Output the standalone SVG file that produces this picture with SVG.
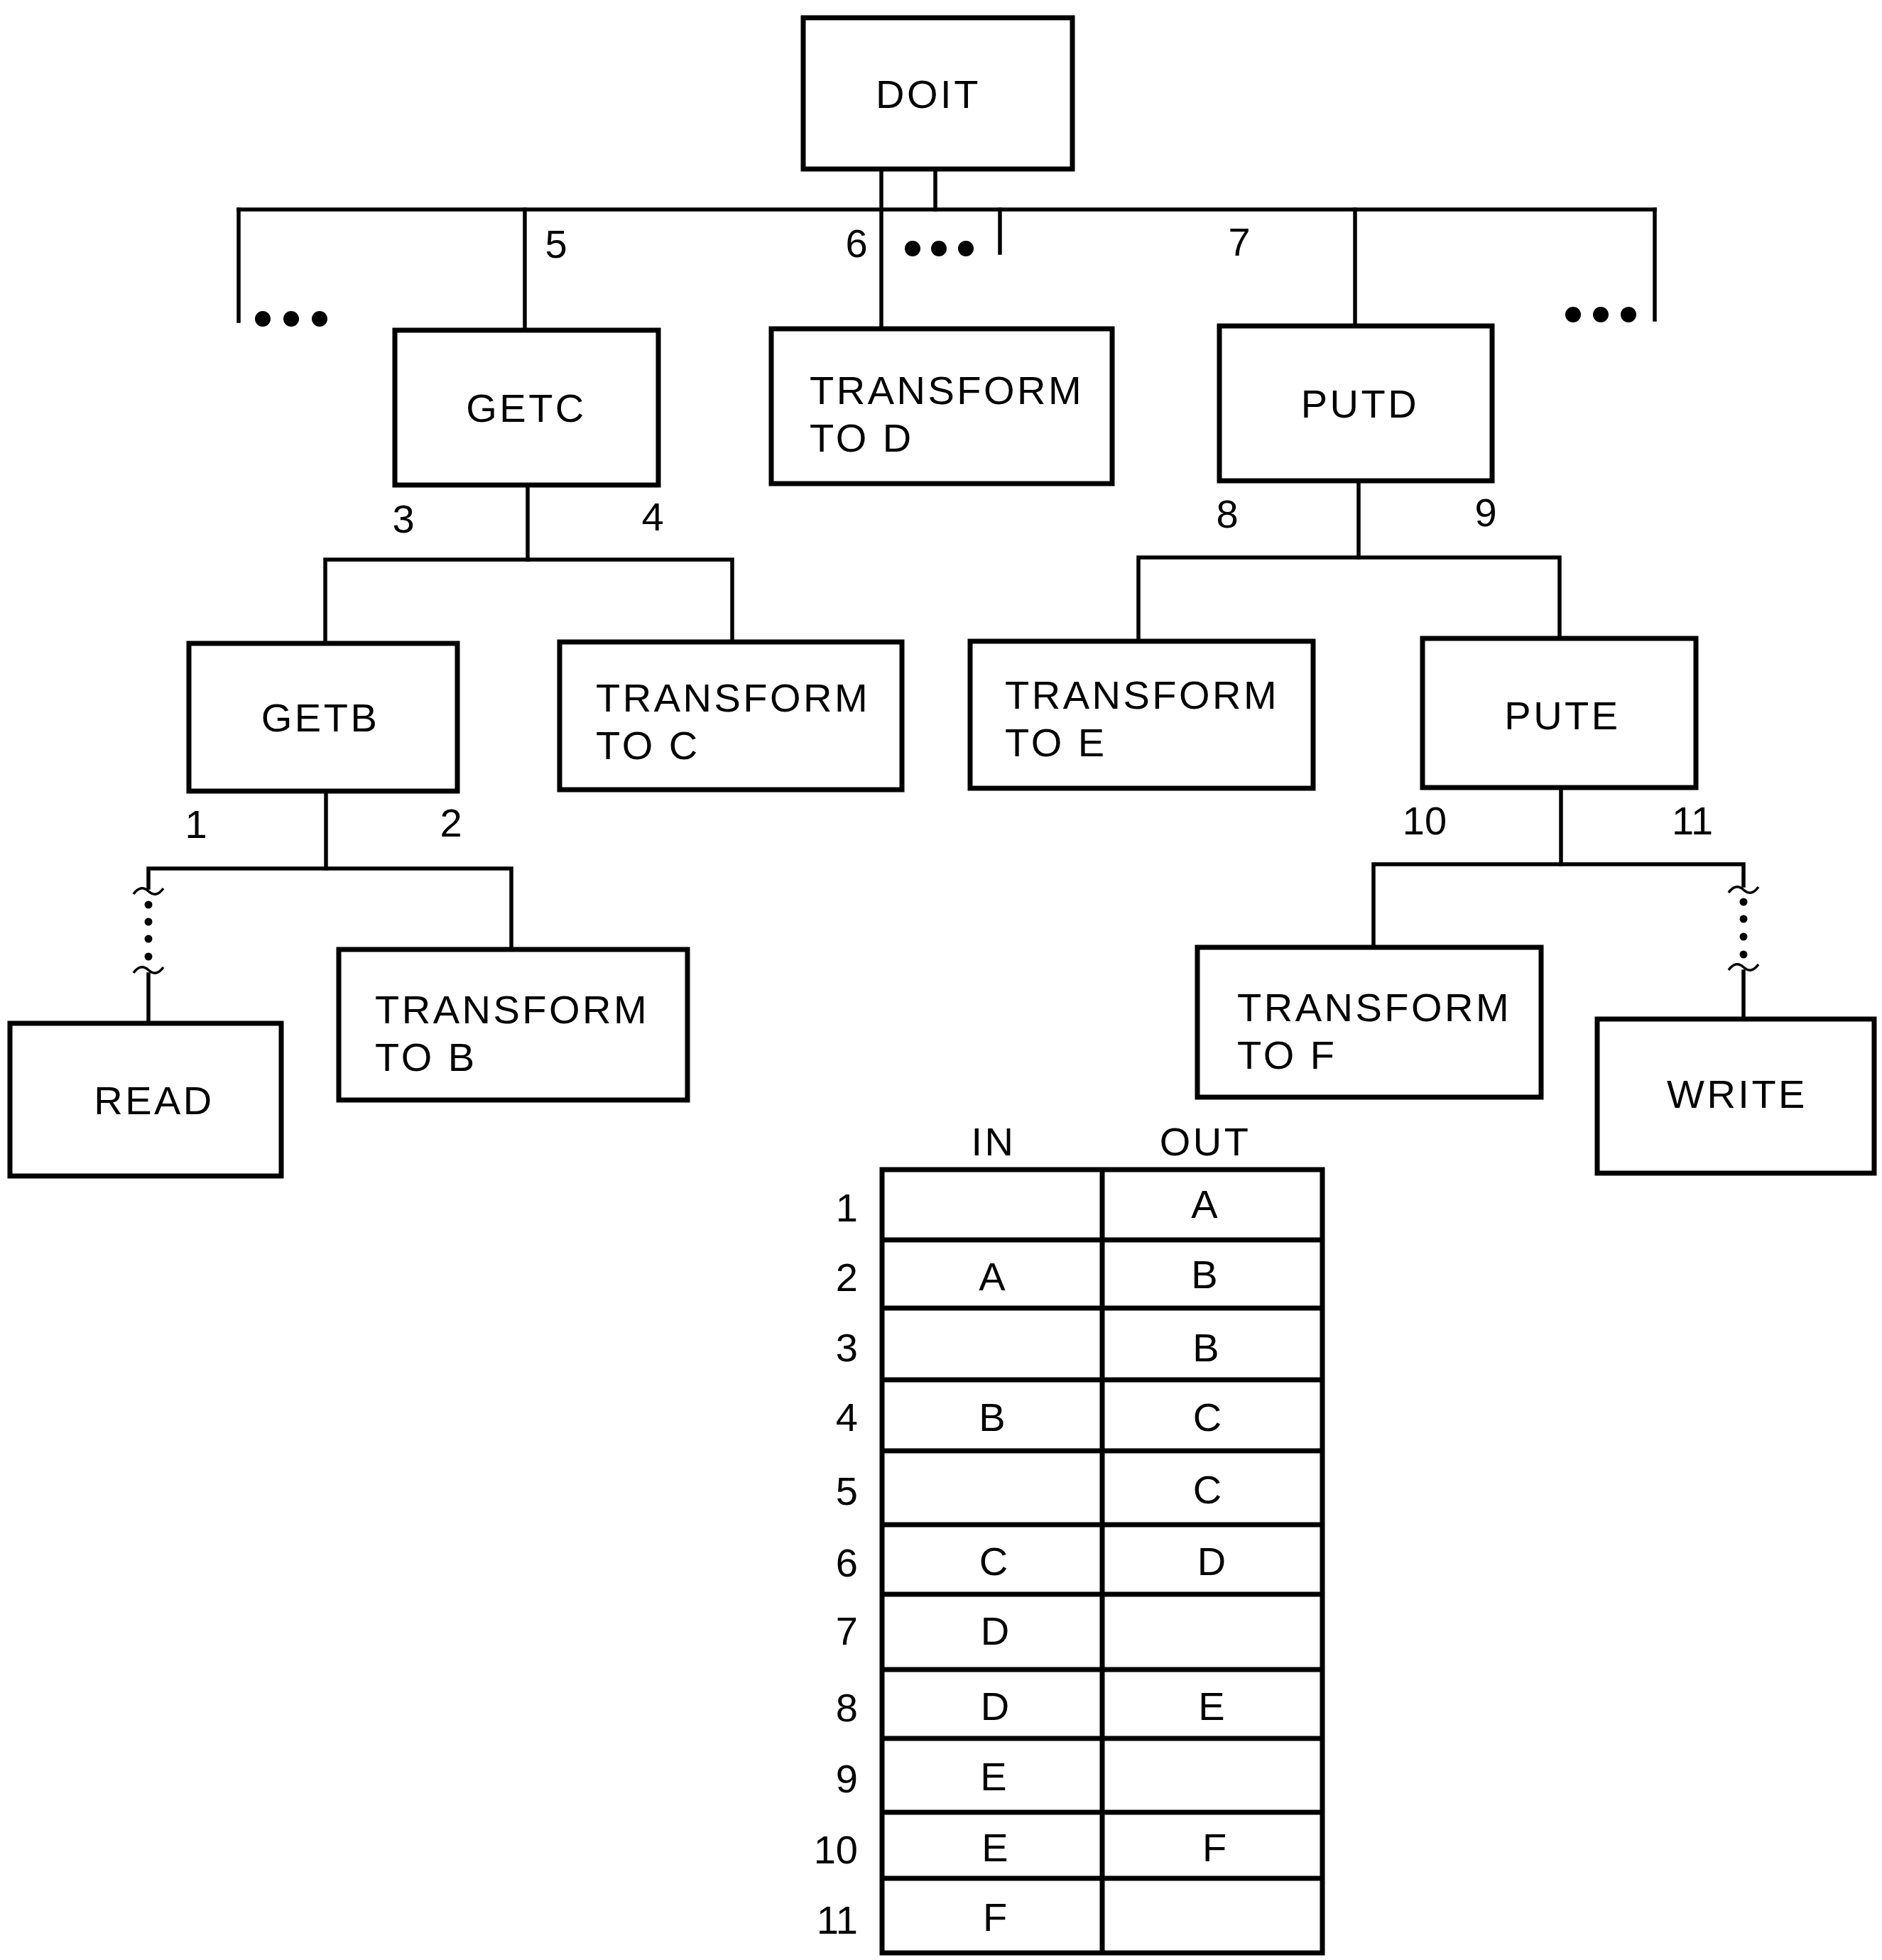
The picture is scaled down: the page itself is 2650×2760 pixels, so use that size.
<svg xmlns="http://www.w3.org/2000/svg" width="2650" height="2760" viewBox="0 0 2650 2760">
  <style>
    .box { fill: #fff; stroke: #000; stroke-width: 7; }
    .wire { fill: none; stroke: #000; stroke-width: 5.5; stroke-linecap: square; }
    .tilde { fill: none; stroke: #000; stroke-width: 3.5; }
    .grid { fill: none; stroke: #000; stroke-width: 7; }
    .t { font-family: "Liberation Sans", Arial, sans-serif; font-size: 56px; letter-spacing: 3.5px; fill: #000; }
    .c { text-anchor: middle; }
    .n { font-family: "Liberation Sans", Arial, sans-serif; font-size: 56px; fill: #000; text-anchor: middle; }
    .r { font-family: "Liberation Sans", Arial, sans-serif; font-size: 56px; fill: #000; text-anchor: end; }
  </style>
  <defs>
    <path id="tilde" class="tilde" d="M -21 4 Q -11 -10 0 0 Q 11 10 21 -4"/>
  </defs>
  <rect width="2650" height="2760" fill="#fff"/>

  <!-- connectors -->
  <g id="connectors">
    <!-- DOIT bus -->
    <line class="wire" x1="1241" y1="238" x2="1241" y2="463"/>
    <line class="wire" x1="1317" y1="238" x2="1317" y2="295"/>
    <line class="wire" x1="336" y1="295" x2="2330" y2="295"/>
    <line class="wire" x1="336" y1="295" x2="336" y2="452"/>
    <line class="wire" x1="739" y1="295" x2="739" y2="465"/>
    <line class="wire" x1="1408" y1="295" x2="1408" y2="356"/>
    <line class="wire" x1="1908" y1="295" x2="1908" y2="459"/>
    <line class="wire" x1="2330" y1="295" x2="2330" y2="450"/>
    <!-- GETC -->
    <polyline class="wire" points="743,683 743,788"/>
    <polyline class="wire" points="458,906 458,788 1031,788 1031,904"/>
    <!-- PUTD -->
    <polyline class="wire" points="1913,677 1913,785"/>
    <polyline class="wire" points="1603,903 1603,785 2196,785 2196,899"/>
    <!-- GETB -->
    <polyline class="wire" points="459,1114 459,1223"/>
    <polyline class="wire" points="209,1250 209,1223 720,1223 720,1337"/>
    <line class="wire" x1="209" y1="1372" x2="209" y2="1441"/>
    <!-- PUTE -->
    <polyline class="wire" points="2198,1109 2198,1217"/>
    <polyline class="wire" points="1934,1334 1934,1217 2455,1217 2455,1247"/>
    <line class="wire" x1="2455" y1="1368" x2="2455" y2="1434"/>
    <!-- elided links to READ and WRITE -->
    <use href="#tilde" x="209" y="1255"/>
    <use href="#tilde" x="209" y="1366"/>
    <g fill="#000">
      <circle cx="209" cy="1274" r="5.5"/>
      <circle cx="209" cy="1298" r="5.5"/>
      <circle cx="209" cy="1322" r="5.5"/>
      <circle cx="209" cy="1347" r="5.5"/>
    </g>
    <use href="#tilde" x="2455" y="1253"/>
    <use href="#tilde" x="2455" y="1362"/>
    <g fill="#000">
      <circle cx="2455" cy="1270" r="5.5"/>
      <circle cx="2455" cy="1294" r="5.5"/>
      <circle cx="2455" cy="1319" r="5.5"/>
      <circle cx="2455" cy="1344" r="5.5"/>
    </g>
    <!-- ellipsis markers -->
    <g fill="#000">
      <ellipse cx="370" cy="449" rx="11" ry="11"/>
      <ellipse cx="410" cy="449" rx="11" ry="11"/>
      <ellipse cx="450" cy="449" rx="11" ry="11"/>
      <ellipse cx="1285" cy="350" rx="11" ry="11"/>
      <ellipse cx="1322" cy="350" rx="11" ry="11"/>
      <ellipse cx="1360" cy="350" rx="11" ry="11"/>
      <ellipse cx="2215" cy="443" rx="11" ry="11"/>
      <ellipse cx="2254" cy="443" rx="11" ry="11"/>
      <ellipse cx="2293" cy="443" rx="11" ry="11"/>
    </g>
    <!-- link numbers -->
    <text class="n" x="783" y="363">5</text>
    <text class="n" x="1206" y="362">6</text>
    <text class="n" x="1745" y="360">7</text>
    <text class="n" x="568" y="750">3</text>
    <text class="n" x="919" y="747">4</text>
    <text class="n" x="1728" y="743">8</text>
    <text class="n" x="2092" y="741">9</text>
    <text class="n" x="276" y="1180">1</text>
    <text class="n" x="635" y="1178">2</text>
    <text class="n" x="2006" y="1175">10</text>
    <text class="n" x="2383" y="1175">11</text>
  </g>

  <!-- nodes -->
  <g id="doit">
    <rect class="box" x="1131" y="25" width="379" height="213"/>
    <text class="t c" x="1307" y="152">DOIT</text>
  </g>
  <g id="getc">
    <rect class="box" x="556" y="465" width="371" height="218"/>
    <text class="t c" x="741" y="594">GETC</text>
  </g>
  <g id="transform-to-d">
    <rect class="box" x="1086" y="463" width="480" height="218"/>
    <text class="t" x="1140" y="569">TRANSFORM</text>
    <text class="t" x="1140" y="636">TO D</text>
  </g>
  <g id="putd">
    <rect class="box" x="1717" y="459" width="384" height="218"/>
    <text class="t c" x="1915" y="588">PUTD</text>
  </g>
  <g id="getb">
    <rect class="box" x="266" y="906" width="378" height="208"/>
    <text class="t c" x="451" y="1030">GETB</text>
  </g>
  <g id="transform-to-c">
    <rect class="box" x="788" y="904" width="482" height="208"/>
    <text class="t" x="839" y="1002">TRANSFORM</text>
    <text class="t" x="839" y="1069">TO C</text>
  </g>
  <g id="transform-to-e">
    <rect class="box" x="1366" y="903" width="483" height="207"/>
    <text class="t" x="1415" y="998">TRANSFORM</text>
    <text class="t" x="1415" y="1065">TO E</text>
  </g>
  <g id="pute">
    <rect class="box" x="2003" y="899" width="385" height="210"/>
    <text class="t c" x="2200" y="1027">PUTE</text>
  </g>
  <g id="read">
    <rect class="box" x="14" y="1441" width="382" height="215"/>
    <text class="t c" x="217" y="1569">READ</text>
  </g>
  <g id="transform-to-b">
    <rect class="box" x="477" y="1337" width="491" height="212"/>
    <text class="t" x="528" y="1441">TRANSFORM</text>
    <text class="t" x="528" y="1508">TO B</text>
  </g>
  <g id="transform-to-f">
    <rect class="box" x="1686" y="1334" width="484" height="211"/>
    <text class="t" x="1742" y="1438">TRANSFORM</text>
    <text class="t" x="1742" y="1505">TO F</text>
  </g>
  <g id="write">
    <rect class="box" x="2249" y="1435" width="390" height="217"/>
    <text class="t c" x="2446" y="1560">WRITE</text>
  </g>

  <!-- data flow table -->
  <g id="table">
    <text class="t c" x="1399" y="1627">IN</text>
    <text class="t c" x="1697" y="1627">OUT</text>
    <rect class="grid" x="1242" y="1647" width="620" height="1103"/>
    <line class="grid" x1="1552" y1="1647" x2="1552" y2="2750"/>
    <g class="grid">
      <line x1="1242" y1="1746" x2="1862" y2="1746"/>
      <line x1="1242" y1="1842" x2="1862" y2="1842"/>
      <line x1="1242" y1="1943" x2="1862" y2="1943"/>
      <line x1="1242" y1="2043" x2="1862" y2="2043"/>
      <line x1="1242" y1="2147" x2="1862" y2="2147"/>
      <line x1="1242" y1="2245" x2="1862" y2="2245"/>
      <line x1="1242" y1="2351" x2="1862" y2="2351"/>
      <line x1="1242" y1="2448" x2="1862" y2="2448"/>
      <line x1="1242" y1="2552" x2="1862" y2="2552"/>
      <line x1="1242" y1="2645" x2="1862" y2="2645"/>
    </g>
    <!-- row numbers -->
    <text class="r" x="1208" y="1720">1</text>
    <text class="r" x="1208" y="1818">2</text>
    <text class="r" x="1208" y="1917">3</text>
    <text class="r" x="1208" y="2015">4</text>
    <text class="r" x="1208" y="2119">5</text>
    <text class="r" x="1208" y="2220">6</text>
    <text class="r" x="1208" y="2316">7</text>
    <text class="r" x="1208" y="2424">8</text>
    <text class="r" x="1208" y="2524">9</text>
    <text class="r" x="1208" y="2624">10</text>
    <text class="r" x="1208" y="2723">11</text>
    <!-- IN column -->
    <text class="n" x="1397" y="1817">A</text>
    <text class="n" x="1397" y="2015">B</text>
    <text class="n" x="1399" y="2218">C</text>
    <text class="n" x="1401" y="2316">D</text>
    <text class="n" x="1401" y="2422">D</text>
    <text class="n" x="1399" y="2521">E</text>
    <text class="n" x="1401" y="2621">E</text>
    <text class="n" x="1401" y="2719">F</text>
    <!-- OUT column -->
    <text class="n" x="1696" y="1715">A</text>
    <text class="n" x="1696" y="1814">B</text>
    <text class="n" x="1698" y="1917">B</text>
    <text class="n" x="1700" y="2015">C</text>
    <text class="n" x="1700" y="2117">C</text>
    <text class="n" x="1706" y="2218">D</text>
    <text class="n" x="1706" y="2422">E</text>
    <text class="n" x="1710" y="2621">F</text>
  </g>
</svg>
